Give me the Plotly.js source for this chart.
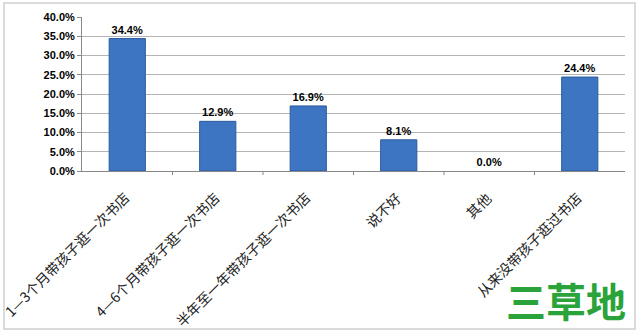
<!DOCTYPE html>
<html>
<head>
<meta charset="utf-8">
<script src="https://cdn.plot.ly/plotly-3.0.1.min.js"></script>
<style>html,body{margin:0;padding:0;background:#fff;}#chart{width:640px;height:334px;}</style>
</head>
<body>
<div id="chart"></div>
<script>
const categories = ["1—3个月带孩子逛一次书店", "4—6个月带孩子逛一次书店", "半年至一年带孩子逛一次书店", "说不好", "其他", "从来没带孩子逛过书店"];
const values = [34.4, 12.9, 16.9, 8.1, 0.0, 24.4];
const tickValues = [0, 5, 10, 15, 20, 25, 30, 35, 40];
const tickLabels = tickValues.map(v => v.toFixed(1) + "%");
const barLabels = values.map(v => "<b>" + v.toFixed(1) + "%</b>");

const L = 82, R = 625, T = 17, B = 171, W = 640, H = 334;
const px = x => (x - L) / (R - L);
const py = y => (B - y) / (B - T);

const trace = {
  type: "bar",
  x: categories,
  y: values,
  width: 0.4,
  marker: { color: "#3e75c3", line: { color: "#2a5a9c", width: values.map(v => v > 0 ? 1 : 0) } },
  text: barLabels,
  textposition: "outside",
  cliponaxis: false,
  textfont: { family: "Liberation Sans, Arial, sans-serif", size: 11, color: "#000" },
  hoverinfo: "skip"
};

const catAnnotations = categories.map(c => ({
  xref: "x", yref: "paper", x: c, y: py(185), xshift: 9,
  text: c, showarrow: false, textangle: -45,
  xanchor: "right", yanchor: "top",
  font: { family: "Noto Sans CJK SC, sans-serif", size: 14, color: "#222" }
}));

const layout = {
  width: W, height: H,
  margin: { l: L, r: W - R, t: T, b: H - B, pad: 0 },
  paper_bgcolor: "#fff", plot_bgcolor: "#fff",
  showlegend: false,
  font: { family: "Noto Sans CJK SC, sans-serif", color: "#000" },
  xaxis: {
    type: "category",
    categoryorder: "array",
    categoryarray: categories,
    range: [-0.5, categories.length - 0.5],
    showticklabels: false,
    showline: true, linecolor: "#888", linewidth: 1,
    ticks: "", showgrid: false,
    automargin: false
  },
  yaxis: {
    range: [0, 40],
    tickvals: tickValues,
    ticktext: tickLabels,
    tickfont: { family: "Liberation Sans, Arial, sans-serif", size: 11, color: "#000", weight: "bold" },
    showline: true, linecolor: "#888", linewidth: 1,
    ticks: "outside", ticklen: 4, tickcolor: "#888",
    showgrid: true, gridcolor: "#b4b4b4", gridwidth: 1,
    zeroline: false,
    automargin: false
  },
  shapes: [
    { type: "rect", xref: "paper", yref: "paper", x0: px(4), x1: px(635), y0: py(329), y1: py(3),
      line: { color: "#cfcfcf", width: 1.5 }, fillcolor: "rgba(0,0,0,0)", layer: "below" }
  ].concat([1,2,3,4,5].map(i => ({
    type: "line", xref: "x", yref: "paper", x0: i - 0.5, x1: i - 0.5, y0: 0, y1: py(B + 4),
    line: { color: "#888", width: 1 }
  }))),
  annotations: catAnnotations.concat([
    { xref: "paper", yref: "paper", x: px(566), y: py(300), xanchor: "center", yanchor: "middle",
      text: "<b>三草地</b>", showarrow: false,
      font: { family: "Noto Sans CJK SC, sans-serif", size: 40, color: "#2aa33b" } }
  ])
};

Plotly.newPlot("chart", [trace], layout, { displayModeBar: false, staticPlot: true });
</script>
</body>
</html>
